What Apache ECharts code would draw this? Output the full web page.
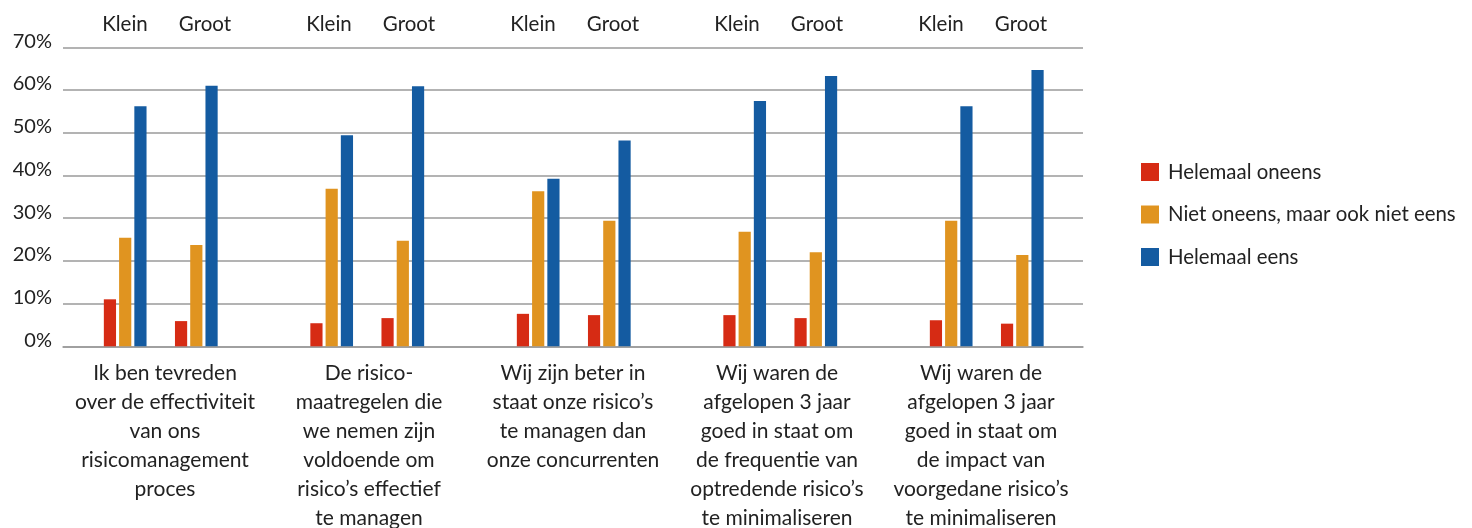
<!DOCTYPE html>
<html>
<head>
<meta charset="utf-8">
<script src="https://cdn.jsdelivr.net/npm/echarts@6/dist/echarts.min.js"></script>
<style>
  html, body { margin: 0; padding: 0; background: #ffffff; }
  #chart { width: 1472px; height: 528px; }
</style>
</head>
<body>
<div id="chart"></div>
<script>
// ---- data ----
const categories = [
  'Ik ben tevreden\nover de effectiviteit\nvan ons\nrisicomanagement\nproces',
  'De risico-\nmaatregelen die\nwe nemen zijn\nvoldoende om\nrisico\u2019s effectief\nte managen',
  'Wij zijn beter in\nstaat onze risico\u2019s\nte managen dan\nonze concurrenten',
  'Wij waren de\nafgelopen 3 jaar\ngoed in staat om\nde frequentie van\noptredende risico\u2019s\nte minimaliseren',
  'Wij waren de\nafgelopen 3 jaar\ngoed in staat om\nde impact van\nvoorgedane risico\u2019s\nte minimaliseren'
];
const subgroups = ['Klein', 'Groot'];
const seriesNames = ['Helemaal oneens', 'Niet oneens, maar ook niet eens', 'Helemaal eens'];
const yTicks = [0, 10, 20, 30, 40, 50, 60, 70];

const kleinOneens    = [11.0, 5.4, 7.6, 7.3, 6.1];
const kleinNeutraal  = [25.4, 36.9, 36.3, 26.8, 29.4];
const kleinEens      = [56.2, 49.4, 39.2, 57.4, 56.2];
const grootOneens    = [5.9, 6.6, 7.3, 6.6, 5.3];
const grootNeutraal  = [23.7, 24.7, 29.4, 22.0, 21.4];
const grootEens      = [61.0, 60.9, 48.2, 63.3, 64.7];

// ---- styling ----
const colors = ['#D62B14', '#E09420', '#145BA1'];
const FONT = 'Lato';
const TEXT = '#222222';

const chart = echarts.init(document.getElementById('chart'), null, { renderer: 'canvas' });

function barSeries(name, data, color) {
  return {
    name: name,
    type: 'bar',
    xAxisIndex: 1,
    yAxisIndex: 1,
    data: data,
    barWidth: 12.2,
    barGap: '25%',
    itemStyle: { color: color },
    emphasis: { disabled: true },
    animation: false
  };
}

const spacer = {
  name: 'spacer',
  type: 'bar',
  xAxisIndex: 1,
  yAxisIndex: 1,
  data: categories.map(() => 0),
  barWidth: 20.3,
  barGap: '25%',
  itemStyle: { color: 'rgba(0,0,0,0)' },
  silent: true,
  animation: false
};

const option = {
  backgroundColor: '#ffffff',
  animation: false,
  textStyle: { fontFamily: FONT, color: TEXT },
  legend: {
    orient: 'vertical',
    left: 1141,
    top: 162,
    padding: 0,
    itemWidth: 18,
    itemHeight: 18,
    itemGap: 22.5,
    icon: 'rect',
    data: seriesNames,
    selectedMode: false,
    textStyle: { fontFamily: FONT, fontSize: 20.4, color: TEXT, lineHeight: 18, padding: [0, 0, 0, 4] }
  },
  grid: [
    { left: 63, right: 389, top: 47.3, bottom: 181.7, outerBoundsMode: 'none', containLabel: false },
    { left: 57.5, right: 382, top: 47.3, bottom: 181.7, outerBoundsMode: 'none', containLabel: false }
  ],
  xAxis: [
    {
      type: 'category',
      gridIndex: 0,
      data: categories,
      position: 'bottom',
      axisLine: { show: true, lineStyle: { color: '#9a9a9a', width: 1.5 } },
      axisTick: { show: false },
      axisLabel: {
        interval: 0,
        hideOverlap: false,
        margin: 12,
        fontFamily: FONT,
        fontSize: 21,
        lineHeight: 29,
        color: TEXT,
        align: 'center',
        verticalAlign: 'top'
      }
    },
    {
      type: 'category',
      gridIndex: 1,
      data: categories,
      show: false
    },
    {
      type: 'category',
      gridIndex: 0,
      data: categories,
      position: 'top',
      axisLine: { show: false },
      axisTick: { show: false },
      axisLabel: {
        interval: 0,
        margin: 12,
        formatter: function () {
          return '{k|' + subgroups[0] + '}{g|' + subgroups[1] + '}';
        },
        rich: {
          k: { width: 80, align: 'center', fontFamily: FONT, fontSize: 20.5, color: TEXT },
          g: { width: 80, align: 'center', fontFamily: FONT, fontSize: 20.5, color: TEXT }
        }
      }
    }
  ],
  yAxis: [
    {
      type: 'value',
      gridIndex: 0,
      min: yTicks[0],
      max: yTicks[yTicks.length - 1],
      interval: 10,
      axisLine: { show: false },
      axisTick: { show: false },
      splitLine: { show: true, lineStyle: { color: '#9a9a9a', width: 1.5 } },
      axisLabel: {
        margin: 11,
        fontFamily: FONT,
        fontSize: 20,
        color: TEXT,
        verticalAlign: 'bottom',
        lineHeight: 12,
        formatter: function (v) { return v + '%'; }
      }
    },
    {
      type: 'value',
      gridIndex: 1,
      min: yTicks[0],
      max: yTicks[yTicks.length - 1],
      interval: 10,
      show: false,
      splitLine: { show: false }
    }
  ],
  series: [
    barSeries(seriesNames[0], kleinOneens, colors[0]),
    barSeries(seriesNames[1], kleinNeutraal, colors[1]),
    barSeries(seriesNames[2], kleinEens, colors[2]),
    spacer,
    barSeries(seriesNames[0], grootOneens, colors[0]),
    barSeries(seriesNames[1], grootNeutraal, colors[1]),
    barSeries(seriesNames[2], grootEens, colors[2])
  ]
};

chart.setOption(option);
</script>
</body>
</html>
